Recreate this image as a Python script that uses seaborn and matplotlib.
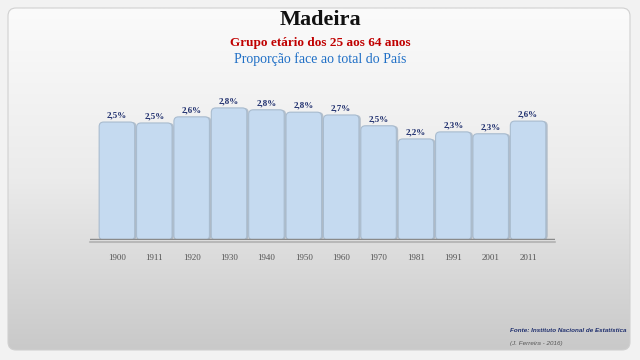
import numpy as np
import pandas as pd
import matplotlib
matplotlib.use("Agg")
import matplotlib.pyplot as plt
import seaborn as sns
from matplotlib.patches import FancyBboxPatch

# -- Data -------------------------------------------------------------------
years = ["1900", "1911", "1920", "1930", "1940", "1950",
         "1960", "1970", "1981", "1991", "2001", "2011"]
share = [2.51, 2.49, 2.62, 2.81, 2.77, 2.72, 2.66, 2.43, 2.15, 2.30, 2.26, 2.53]
share_labels = ["2,5%", "2,5%", "2,6%", "2,8%", "2,8%", "2,8%",
                "2,7%", "2,5%", "2,2%", "2,3%", "2,3%", "2,6%"]

df = pd.DataFrame({"Ano": years, "Proporcao": share})

sns.set_theme(style="white")
plt.rcParams["font.family"] = ["Liberation Serif", "DejaVu Serif"]

fig = plt.figure(figsize=(6.4, 3.6), dpi=100)
fig.patch.set_facecolor("#f2f2f2")

# -- Background panel with vertical gradient --------------------------------
bg = fig.add_axes([0, 0, 1, 1])
bg.set_xlim(0, 640)
bg.set_ylim(360, 0)
bg.axis("off")
grad = np.linspace(0, 1, 256).reshape(-1, 1)
panel = FancyBboxPatch((8, 8), 622, 342, boxstyle="round,pad=0,rounding_size=8",
                       facecolor="none", edgecolor="#d0d0d0", lw=0.8)
bg.add_patch(panel)
im = bg.imshow(grad, extent=[8, 630, 350, 8], cmap=matplotlib.colors.LinearSegmentedColormap.from_list(
    "bgc", ["#fbfbfb", "#ebebeb", "#c9c9c9"]), aspect="auto", zorder=0)
im.set_clip_path(panel)

# -- Bars -------------------------------------------------------------------
ax = fig.add_axes([90 / 640, 1 - 240 / 360, 465 / 640, 141 / 360])
ax.patch.set_alpha(0)
sns.barplot(data=df, x="Ano", y="Proporcao", color="#c5daf0", width=0.95, ax=ax)
ax.set_xlim(-0.72, len(years) - 1 + 0.72)
ax.set_ylim(0, 3.0)

# rounded tops
x_per_px = (ax.get_xlim()[1] - ax.get_xlim()[0]) / (465)
y_per_px = (ax.get_ylim()[1] - ax.get_ylim()[0]) / (141)
for p, lab in zip(list(ax.patches), share_labels):
    x0, y0, w, h = p.get_x(), p.get_y(), p.get_width(), p.get_height()
    p.set_visible(False)
    shadow = FancyBboxPatch((x0 + 0.05, y0), w, h, boxstyle="round,pad=0,rounding_size=0.12",
                            mutation_aspect=y_per_px / x_per_px,
                            facecolor="#8fa0b3", edgecolor="none", alpha=0.6, zorder=2)
    ax.add_patch(shadow)
    bar = FancyBboxPatch((x0, y0), w, h, boxstyle="round,pad=0,rounding_size=0.12",
                         mutation_aspect=y_per_px / x_per_px,
                         facecolor="#c5daf0", edgecolor="#a9bccf", lw=0.8, zorder=3)
    ax.add_patch(bar)
    ax.text(x0 + w / 2, h + 0.06, lab, ha="center", va="bottom",
            fontsize=6.5, fontweight="bold", color="#1f2f6e", zorder=4)

ax.axhline(0, color="#8a8a8a", lw=2.5, zorder=5)
ax.axhline(-0.04, color="#b8b8b8", lw=1.5, zorder=4, clip_on=False)
sns.despine(ax=ax, left=True, bottom=True)
ax.set_yticks([])
ax.set_xlabel("")
ax.set_ylabel("")
ax.tick_params(axis="x", length=0, pad=10, labelsize=6.5, labelcolor="#555555")

# -- Titles -----------------------------------------------------------------
fig.text(0.5, 1 - 20 / 360, "Madeira", ha="center", va="center",
         fontsize=16, fontweight="bold", color="#111111")
fig.text(0.5, 1 - 43 / 360, "Grupo etário dos 25 aos 64 anos", ha="center", va="center",
         fontsize=9.5, fontweight="bold", color="#c00000")
fig.text(0.5, 1 - 59 / 360, "Proporção face ao total do País", ha="center", va="center",
         fontsize=10, color="#1f6fc6")

fig.text(510 / 640, 1 - 330 / 360, "Fonte: Instituto Nacional de Estatística",
         ha="left", va="center", fontsize=4.5, fontweight="bold", style="italic",
         color="#1f2f6e", family=["Liberation Sans", "DejaVu Sans"])
fig.text(510 / 640, 1 - 343 / 360, "(J. Ferreira - 2016)",
         ha="left", va="center", fontsize=4.5, style="italic",
         color="#555555", family=["Liberation Sans", "DejaVu Sans"])

fig.savefig("out.png", dpi=100)
